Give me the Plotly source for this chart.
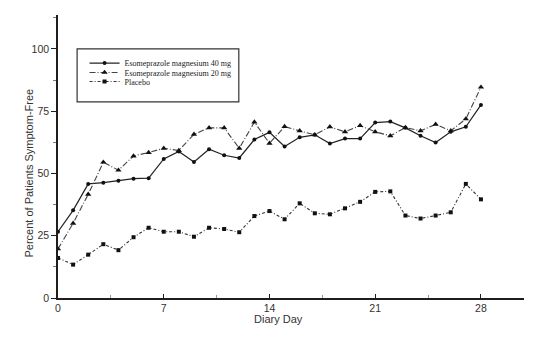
import plotly.graph_objects as go

# Diary days 0..28
days = list(range(29))

# Percent of patients symptom-free per diary day
eso40 = [26.6, 35.2, 45.8, 46.3, 47.1, 47.9, 48.1, 55.8, 58.8, 54.6,
         59.7, 57.3, 56.2, 63.6, 66.5, 60.8, 64.5, 65.5, 62.0, 64.0,
         64.0, 70.4, 70.8, 68.3, 65.1, 62.4, 66.7, 68.7, 77.5]
eso20 = [19.7, 30.0, 41.6, 54.5, 51.3, 57.0, 58.4, 60.1, 59.2, 65.7,
         68.3, 68.3, 60.1, 70.6, 62.1, 68.8, 67.1, 65.5, 68.7, 66.7,
         69.2, 66.7, 65.1, 68.4, 67.1, 69.7, 67.1, 71.9, 84.6]
placebo = [16.1, 13.4, 17.4, 21.6, 19.2, 24.4, 28.2, 26.6, 26.6, 24.6,
           28.2, 27.7, 26.4, 32.9, 34.9, 31.6, 38.0, 34.0, 33.6, 36.0,
           38.6, 42.6, 42.8, 33.1, 31.9, 33.1, 34.4, 45.8, 39.6]

series_names = ["Esomeprazole magnesium 40 mg",
                "Esomeprazole magnesium 20 mg",
                "Placebo"]

x_ticks = [0, 7, 14, 21, 28]
y_ticks = [0, 25, 50, 75, 100]

ink = "#1e1e1e"
fig = go.Figure()

styles = [
    dict(dash="solid", symbol="circle", size=4, color="#222222", width=1.2),
    dict(dash="6px,2px,1px,2px", symbol="triangle-up", size=5.5, color="#444444", width=1.1),
    dict(dash="3px,2px,1px,2px", symbol="square", size=4, color="#333333", width=1.1),
]
legend_ids = ["legend", "legend2", "legend3"]

for name, vals, st, lg in zip(series_names, [eso40, eso20, placebo], styles, legend_ids):
    fig.add_trace(go.Scatter(
        x=days, y=vals, name=name, mode="lines+markers",
        line=dict(color=st["color"], width=st["width"], dash=st["dash"]),
        marker=dict(symbol=st["symbol"], size=st["size"], color="#111111"),
        legend=lg, showlegend=True,
    ))

leg_font = dict(family="Liberation Serif, Times New Roman, serif", size=8, color="#222222")
leg_common = dict(font=leg_font, bgcolor="rgba(0,0,0,0)", borderwidth=0,
                  xanchor="left", yanchor="middle", itemwidth=30,
                  x=0.057, itemclick=False)

title_font = dict(family="Liberation Sans, Arial, sans-serif", size=11, color="#333333")

fig.update_layout(
    width=548, height=346,
    margin=dict(l=58, r=24, t=15, b=48),
    paper_bgcolor="white", plot_bgcolor="white",
    font=dict(family="Liberation Sans, Arial, sans-serif", size=10, color="#333333"),
    showlegend=True,
    legend=dict(**leg_common, y=0.830),
    legend2=dict(**leg_common, y=0.797),
    legend3=dict(**leg_common, y=0.765),
    xaxis=dict(
        range=[0, 30.85], tickvals=x_ticks, ticks="inside", ticklen=4,
        tickcolor=ink, showline=True, linecolor=ink, linewidth=1.5,
        showgrid=False, zeroline=False,
        minor=dict(dtick=3.5, tick0=0, ticks="inside", ticklen=3, tickcolor="#999999"),
        tickfont=dict(size=10.5),
    ),
    yaxis=dict(
        range=[0, 113.6], tickvals=y_ticks, ticks="outside", ticklen=5,
        tickcolor=ink, showline=True, linecolor=ink, linewidth=1.5,
        showgrid=False, zeroline=False,
        minor=dict(dtick=12.5, tick0=0, ticks="outside", ticklen=3, tickcolor="#777777"),
        tickfont=dict(size=10.5),
    ),
    shapes=[dict(type="rect", xref="paper", yref="paper",
                 x0=0.041, x1=0.388, y0=0.693, y1=0.880,
                 line=dict(color="#333333", width=1.2), fillcolor="rgba(0,0,0,0)")],
    annotations=[
        dict(text="Percent of Patients Symptom-Free", textangle=-90,
             xref="paper", yref="y", x=-0.062, y=50,
             xanchor="center", yanchor="middle", showarrow=False, font=title_font),
        dict(text="Diary Day", xref="paper", yref="paper", x=0.474, y=-0.073,
             xanchor="center", yanchor="middle", showarrow=False, font=title_font),
    ],
)

fig.write_html("out.html")
